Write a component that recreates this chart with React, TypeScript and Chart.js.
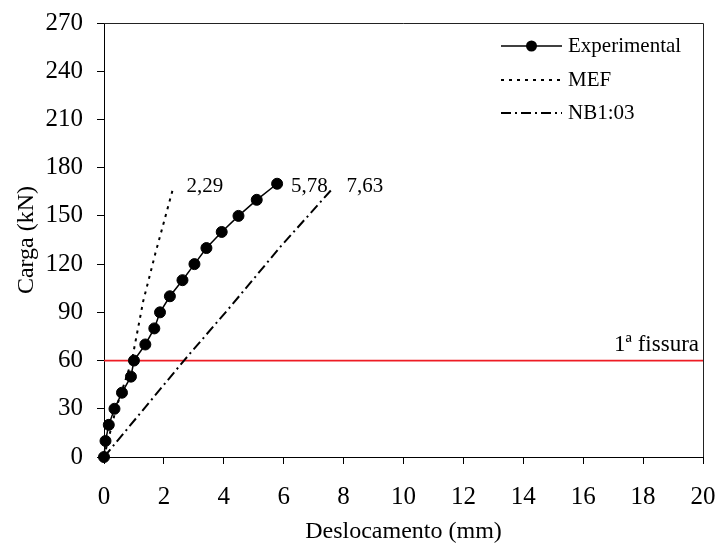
import React, { useEffect, useRef } from "react";
import { Chart, registerables } from "chart.js";

Chart.register(...registerables);

// ---- data ----
const expX = [0, 0.05, 0.16, 0.35, 0.6, 0.9, 1.0, 1.38, 1.68, 1.87, 2.2, 2.62, 3.02, 3.42, 3.93, 4.49, 5.1, 5.78];
const expY = [0, 10, 20, 30, 40, 50, 60, 70, 80, 90, 100, 110, 120, 130, 140, 150, 160, 170];
const mefX = [0, 0.4, 0.93, 1.31, 1.72, 2.29];
const mefY = [0, 30, 60, 97, 127, 166];
const nbX = [0, 2.67, 4.22, 5.9, 7.63];
const nbY = [0, 60, 93.5, 131, 167];
const fissuraX = [0, 20];
const fissuraY = [60, 60];
const seriesNames = ["Experimental", "MEF", "NB1:03"];
const endLabels = ["5,78", "2,29", "7,63"];
const fissuraLabel = "1ª fissura";
const xTicks = [0, 2, 4, 6, 8, 10, 12, 14, 16, 18, 20];
const yTicks = [0, 30, 60, 90, 120, 150, 180, 210, 240, 270];
const xTitle = "Deslocamento (mm)";
const yTitle = "Carga (kN)";

const FONT = "'Liberation Serif', 'Times New Roman', serif";
const RED = "#ee1c24";
const DOT_DASH = [3, 5];
const DASH_DOT = [10, 4, 2, 4];

const toPts = (xs: number[], ys: number[]) => xs.map((x, i) => ({ x, y: ys[i] }));

const overlay = {
  id: "overlay",
  afterDatasetsDraw(chart: any) {
    const { ctx, chartArea, scales } = chart;
    const xs = scales.x;
    const ys = scales.y;
    ctx.save();
    // frame top/right
    ctx.strokeStyle = "#222";
    ctx.lineWidth = 1;
    ctx.beginPath();
    ctx.moveTo(chartArea.left, chartArea.top + 0.5);
    ctx.lineTo(chartArea.right + 0.5, chartArea.top + 0.5);
    ctx.lineTo(chartArea.right + 0.5, chartArea.bottom);
    ctx.stroke();

    // end labels
    ctx.fillStyle = "#000";
    ctx.font = `21px ${FONT}`;
    ctx.textBaseline = "middle";
    ctx.textAlign = "left";
    const ends = [
      [expX[expX.length - 1], expY[expY.length - 1]],
      [mefX[mefX.length - 1], mefY[mefY.length - 1]],
      [nbX[nbX.length - 1], nbY[nbY.length - 1]],
    ];
    ends.forEach((e, i) => {
      ctx.fillText(endLabels[i], xs.getPixelForValue(e[0]) + 14, ys.getPixelForValue(168));
    });

    // fissura label
    ctx.font = `23px ${FONT}`;
    ctx.textAlign = "right";
    ctx.fillText(fissuraLabel, chartArea.right - 4, ys.getPixelForValue(fissuraY[0]) - 16);

    // legend
    const lx0 = 501, lx1 = 562, tx = 568;
    const rows = [46, 80, 113];
    ctx.font = `21px ${FONT}`;
    ctx.textAlign = "left";
    ctx.strokeStyle = "#000";
    rows.forEach((ry, i) => {
      ctx.beginPath();
      ctx.lineWidth = i === 0 ? 1.5 : 2;
      ctx.setLineDash(i === 0 ? [] : i === 1 ? DOT_DASH : DASH_DOT);
      ctx.moveTo(lx0, ry);
      ctx.lineTo(lx1, ry);
      ctx.stroke();
      ctx.setLineDash([]);
      if (i === 0) {
        ctx.beginPath();
        ctx.fillStyle = "#000";
        ctx.arc((lx0 + lx1) / 2, ry, 5.5, 0, Math.PI * 2);
        ctx.fill();
      }
      ctx.fillStyle = "#000";
      ctx.fillText(seriesNames[i], tx, ry);
    });
    ctx.restore();
  },
};

export default function App() {
  const ref = useRef<HTMLCanvasElement | null>(null);
  useEffect(() => {
    if (!ref.current) return;
    const chart = new Chart(ref.current, {
      type: "scatter",
      data: {
        datasets: [
          {
            label: seriesNames[0],
            data: toPts(expX, expY),
            showLine: true,
            borderColor: "#000",
            backgroundColor: "#000",
            borderWidth: 1.5,
            pointRadius: 5.5,
            pointBorderWidth: 1,
            pointBackgroundColor: "#000",
            clip: false,
          },
          {
            label: seriesNames[1],
            data: toPts(mefX, mefY),
            showLine: true,
            borderColor: "#000",
            borderWidth: 2,
            borderDash: DOT_DASH,
            pointRadius: 0,
            clip: false,
          },
          {
            label: seriesNames[2],
            data: toPts(nbX, nbY),
            showLine: true,
            borderColor: "#000",
            borderWidth: 2,
            borderDash: DASH_DOT,
            pointRadius: 0,
            clip: false,
          },
          {
            label: fissuraLabel,
            data: toPts(fissuraX, fissuraY),
            showLine: true,
            borderColor: RED,
            borderWidth: 1.8,
            pointRadius: 0,
          },
        ],
      } as any,
      options: {
        responsive: false,
        animation: false,
        layout: { padding: { top: 23, right: 16, left: 0, bottom: 0 } },
        plugins: { legend: { display: false }, tooltip: { enabled: false } },
        scales: {
          x: {
            type: "linear",
            min: 0,
            max: 20,
            afterBuildTicks: (s: any) => { s.ticks = xTicks.map((v) => ({ value: v })); },
            afterFit: (s: any) => { s.height = 89; s.paddingLeft = 0; s.paddingRight = 0; },
            ticks: { color: "#000", font: { family: FONT, size: 25 }, padding: 18 },
            grid: { drawOnChartArea: false, drawTicks: true, tickLength: 7, color: "#000" },
            border: { display: true, color: "#000", width: 1 },
            title: { display: true, text: xTitle, color: "#000", font: { family: FONT, size: 24 }, padding: { top: 0, bottom: 0 } },
          },
          y: {
            type: "linear",
            min: 0,
            max: 270,
            afterBuildTicks: (s: any) => { s.ticks = yTicks.map((v) => ({ value: v })); },
            afterFit: (s: any) => { s.width = 104; s.paddingTop = 0; s.paddingBottom = 0; },
            ticks: { color: "#000", font: { family: FONT, size: 25 }, padding: 14 },
            grid: { drawOnChartArea: false, drawTicks: true, tickLength: 7, color: "#000" },
            border: { display: true, color: "#000", width: 1 },
            title: { display: true, text: yTitle, color: "#000", font: { family: FONT, size: 24 }, padding: { top: 12, bottom: 0 } },
          },
        },
      } as any,
      plugins: [overlay],
    });
    return () => chart.destroy();
  }, []);
  return (
    <div style={{ position: "fixed", left: 0, top: 0, width: 719, height: 546, background: "#fff" }}>
      <canvas ref={ref} width={719} height={546} />
    </div>
  );
}
